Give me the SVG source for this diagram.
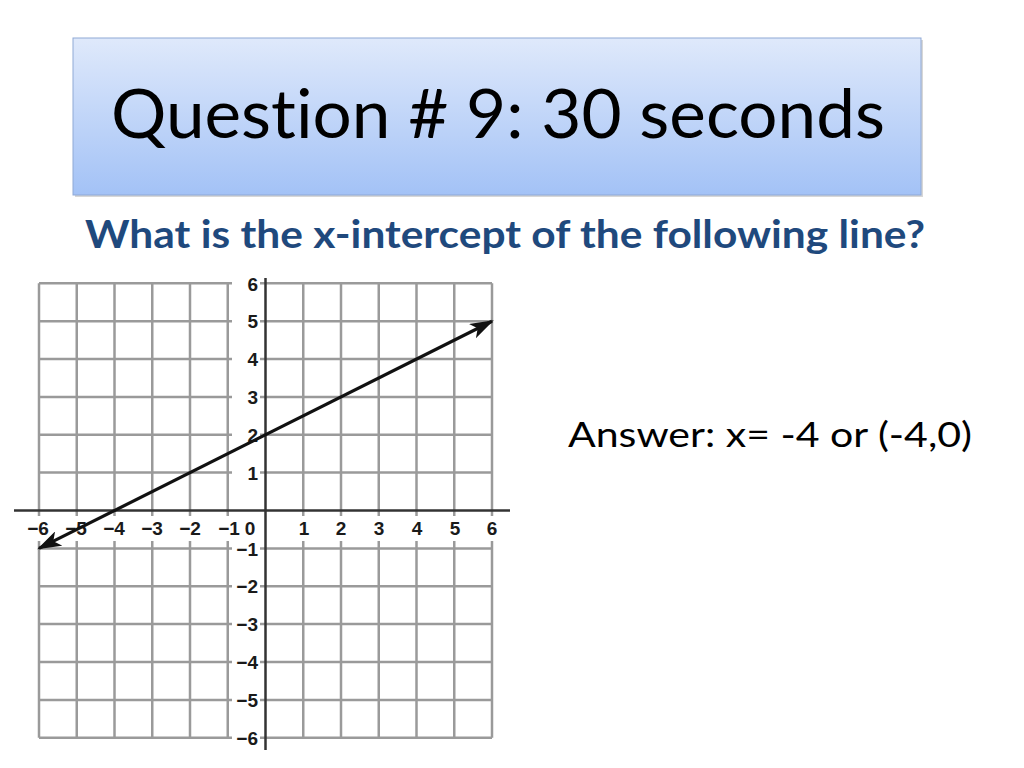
<svg xmlns="http://www.w3.org/2000/svg" width="1024" height="768" viewBox="0 0 1024 768">
  <defs>
    <linearGradient id="titleGrad" x1="0" y1="0" x2="0" y2="1">
      <stop offset="0" stop-color="#dfe9fb"/>
      <stop offset="1" stop-color="#a3c2f6"/>
    </linearGradient>
    <marker id="arrow" viewBox="0 0 24 16" refX="22" refY="8" markerWidth="24" markerHeight="16" markerUnits="userSpaceOnUse" orient="auto-start-reverse">
      <path d="M0,0 L24,8 L0,16 L6,8 z" fill="#111"/>
    </marker>
    <style>
      text { font-variant-ligatures: none; }
      .grid line { stroke: #9a9a9a; stroke-width: 2.5; }
      .axis { stroke: #333; stroke-width: 2.5; }
      .lbl { font-family: "Liberation Sans", Arial, sans-serif; font-weight: bold; font-size: 19px; fill: #1a1a1a; }
      .xl { text-anchor: middle; }
      .yl { text-anchor: end; }
      .mask { fill: #ffffff; }
    </style>
  </defs>
  <rect width="1024" height="768" fill="#ffffff"/>

  <g id="title">
    <rect x="75" y="40" width="848" height="157" fill="#8c8c8c" opacity="0.35"/>
    <rect x="73" y="38" width="848" height="157" fill="url(#titleGrad)" stroke="#8fa9d6" stroke-width="1"/>
    <text x="111" y="138" font-family="Lato, 'Open Sans', sans-serif" font-size="67" fill="#000" textLength="774" lengthAdjust="spacingAndGlyphs">Question # 9: 30 seconds</text>
  </g>

  <g id="question">
    <text x="85" y="248" font-family="Lato, 'Open Sans', sans-serif" font-weight="bold" font-size="39" fill="#1f497d" textLength="840" lengthAdjust="spacingAndGlyphs">What is the x-intercept of the following line?</text>
  </g>

  <g id="answer">
    <text x="568" y="447" font-family="Lato, 'Open Sans', sans-serif" font-size="35" fill="#000" textLength="404" lengthAdjust="spacingAndGlyphs">Answer: x= -4 or (-4,0)</text>
  </g>

  <g id="graph">
    <g class="grid">
      <line x1="39" y1="283.3" x2="39" y2="737.7"/>
      <line x1="76.75" y1="283.3" x2="76.75" y2="737.7"/>
      <line x1="114.5" y1="283.3" x2="114.5" y2="737.7"/>
      <line x1="152.25" y1="283.3" x2="152.25" y2="737.7"/>
      <line x1="190" y1="283.3" x2="190" y2="737.7"/>
      <line x1="227.75" y1="283.3" x2="227.75" y2="737.7"/>
      <line x1="303.25" y1="283.3" x2="303.25" y2="737.7"/>
      <line x1="341" y1="283.3" x2="341" y2="737.7"/>
      <line x1="378.75" y1="283.3" x2="378.75" y2="737.7"/>
      <line x1="416.5" y1="283.3" x2="416.5" y2="737.7"/>
      <line x1="454.25" y1="283.3" x2="454.25" y2="737.7"/>
      <line x1="492" y1="283.3" x2="492" y2="737.7"/>
      <line x1="39" y1="283.3" x2="492" y2="283.3"/>
      <line x1="39" y1="321.2" x2="492" y2="321.2"/>
      <line x1="39" y1="359" x2="492" y2="359"/>
      <line x1="39" y1="396.9" x2="492" y2="396.9"/>
      <line x1="39" y1="434.8" x2="492" y2="434.8"/>
      <line x1="39" y1="472.6" x2="492" y2="472.6"/>
      <line x1="39" y1="548.4" x2="492" y2="548.4"/>
      <line x1="39" y1="586.3" x2="492" y2="586.3"/>
      <line x1="39" y1="624.1" x2="492" y2="624.1"/>
      <line x1="39" y1="662" x2="492" y2="662"/>
      <line x1="39" y1="699.9" x2="492" y2="699.9"/>
      <line x1="39" y1="737.7" x2="492" y2="737.7"/>
    </g>
    <rect class="mask" x="20" y="516" width="482" height="25"/>
    <rect class="mask" x="232" y="276" width="28" height="472"/>
    <line class="axis" x1="14" y1="510.5" x2="510" y2="510.5"/>
    <line class="axis" x1="265.5" y1="278" x2="265.5" y2="750"/>
    <g class="lbl xl">
      <text x="38" y="535">−6</text>
      <text x="76" y="535">−5</text>
      <text x="114" y="535">−4</text>
      <text x="152" y="535">−3</text>
      <text x="190" y="535">−2</text>
      <text x="229" y="535">−1</text>
      <text x="250" y="535">0</text>
      <text x="304" y="535">1</text>
      <text x="341" y="535">2</text>
      <text x="379" y="535">3</text>
      <text x="417" y="535">4</text>
      <text x="455" y="535">5</text>
      <text x="492" y="535">6</text>
    </g>
    <g class="lbl yl">
      <text x="258" y="290.5">6</text>
      <text x="258" y="328">5</text>
      <text x="258" y="366">4</text>
      <text x="258" y="403.5">3</text>
      <text x="258" y="441.5">2</text>
      <text x="258" y="479.5">1</text>
      <text x="258" y="555.5">−1</text>
      <text x="258" y="593">−2</text>
      <text x="258" y="631">−3</text>
      <text x="258" y="669">−4</text>
      <text x="258" y="706.5">−5</text>
      <text x="258" y="744.5">−6</text>
    </g>
  </g>

  <g id="connectors">
    <line x1="39" y1="548.4" x2="492" y2="321.2" stroke="#111" stroke-width="3.2" marker-start="url(#arrow)" marker-end="url(#arrow)"/>
  </g>
</svg>
